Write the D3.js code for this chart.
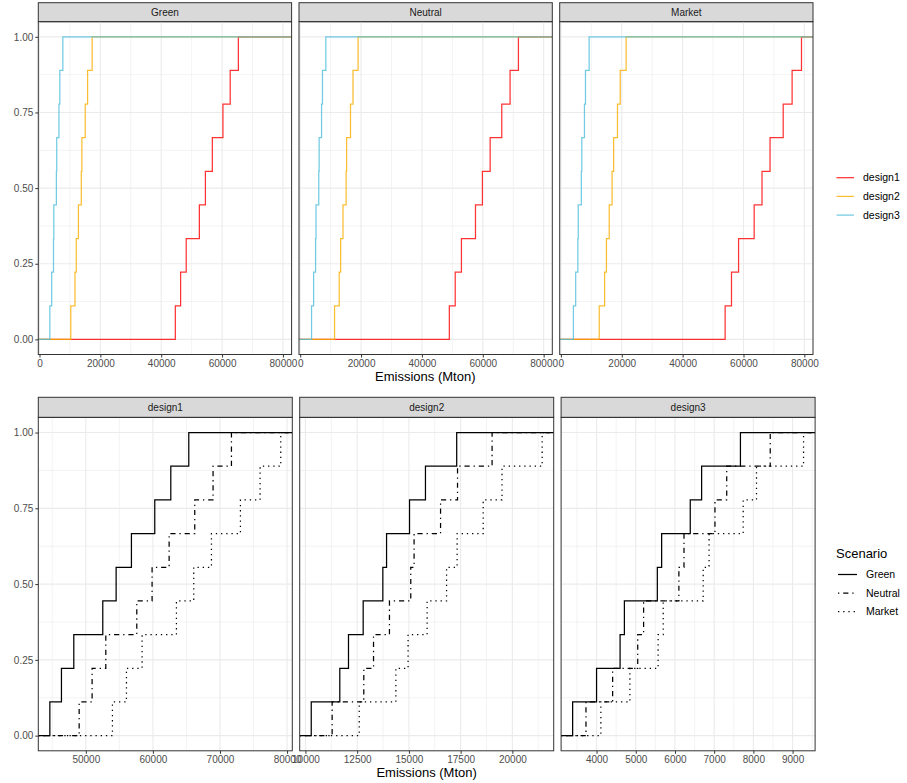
<!DOCTYPE html>
<html><head><meta charset="utf-8">
<script src="https://cdn.jsdelivr.net/npm/d3@7"></script>
<style>body{margin:0;background:#fff} text{font-family:"Liberation Sans",Arial,sans-serif}</style>
</head><body><svg id="c" width="907" height="783"></svg>
<script>
// ---------------- data ----------------
const scenarios = ["Green", "Neutral", "Market"];
const designs = ["design1", "design2", "design3"];
const design1_Green   = [44640, 46370, 48210, 52530, 54520, 56800, 60280, 62670, 65350];
const design1_Neutral = [49010, 50940, 52980, 57600, 59880, 62420, 66240, 68970, 71710];
const design1_Market  = [53970, 56060, 58390, 63510, 66090, 68730, 73050, 75980, 79060];
const design2_Green   = [10280, 11660, 12080, 12790, 13740, 13920, 15030, 15800, 17310];
const design2_Neutral = [11290, 12820, 13290, 14060, 15090, 15250, 16530, 17350, 19020];
const design2_Market  = [12600, 14370, 14960, 15880, 16820, 17330, 18590, 19500, 21440];
const design3_Green   = [3390, 4000, 4600, 4710, 5550, 5660, 6390, 6680, 7670];
const design3_Neutral = [3730, 4410, 5050, 5200, 6100, 6230, 7020, 7320, 8430];
const design3_Market  = [4110, 4850, 5570, 5700, 6720, 6870, 7740, 8080, 9280];
const yTicks = [0, 0.25, 0.5, 0.75, 1];
const topXTicks = [0, 20000, 40000, 60000, 80000];
const design1XTicks = [50000, 60000, 70000, 80000];
const design2XTicks = [10000, 12500, 15000, 17500, 20000];
const design3XTicks = [4000, 5000, 6000, 7000, 8000, 9000];
const xTitle = "Emissions (Mton)";
const legendTitle = "Scenario";

const emissions = {
  design1: {Green: design1_Green, Neutral: design1_Neutral, Market: design1_Market},
  design2: {Green: design2_Green, Neutral: design2_Neutral, Market: design2_Market},
  design3: {Green: design3_Green, Neutral: design3_Neutral, Market: design3_Market}
};
const designColor = {design1: "#FF0000", design2: "#F9AE00", design3: "#4FBEDC"};
const scenarioDash = {Green: null, Neutral: "1.3,3.9,5.2,3.9", Market: "1.3,3.9"};

// ---------------- helpers ----------------
const svg = d3.select("#c");
const grid = "#EBEBEB", dark = "#333333";
function expand(ext) { const s = ext[1] - ext[0]; return [ext[0] - 0.05 * s, ext[1] + 0.05 * s]; }
function minorsOf(ticks, dom) {
  const step = ticks[1] - ticks[0], out = [];
  for (let i = -2; i < ticks.length + 2; i++) {
    const v = ticks[0] + (i + 0.5) * step;
    if (v > dom[0] && v < dom[1]) out.push(v);
  }
  return out;
}
let clipId = 0;
function panel(opt) {
  const {x0, y0, w, h, xDom, xTicks, strip, stripTop, showY, series, ybottomLabelY} = opt;
  const g = svg.append("g");
  const x = d3.scaleLinear().domain(xDom).range([x0, x0 + w]);
  const y = d3.scaleLinear().domain([-0.05, 1.05]).range([y0 + h, y0]);
  // strip
  g.append("rect").attr("x", x0).attr("y", stripTop).attr("width", w).attr("height", y0 - stripTop)
    .attr("fill", "#D9D9D9").attr("stroke", dark).attr("stroke-width", 1);
  g.append("text").attr("x", x0 + w / 2).attr("y", (stripTop + y0) / 2).attr("dy", "0.35em")
    .attr("text-anchor", "middle").attr("font-size", 10).attr("fill", "#1A1A1A").text(strip);
  // grid
  const yMin = minorsOf(yTicks, [-0.05, 1.05]);
  const xMin = minorsOf(xTicks, xDom);
  g.selectAll(null).data(yMin).join("line").attr("x1", x0).attr("x2", x0 + w)
    .attr("y1", d => y(d)).attr("y2", d => y(d)).attr("stroke", grid).attr("stroke-width", 0.6);
  g.selectAll(null).data(xMin).join("line").attr("y1", y0).attr("y2", y0 + h)
    .attr("x1", d => x(d)).attr("x2", d => x(d)).attr("stroke", grid).attr("stroke-width", 0.6);
  g.selectAll(null).data(yTicks).join("line").attr("x1", x0).attr("x2", x0 + w)
    .attr("y1", d => y(d)).attr("y2", d => y(d)).attr("stroke", grid).attr("stroke-width", 1.1);
  g.selectAll(null).data(xTicks.filter(t => t >= xDom[0] && t <= xDom[1])).join("line").attr("y1", y0).attr("y2", y0 + h)
    .attr("x1", d => x(d)).attr("x2", d => x(d)).attr("stroke", grid).attr("stroke-width", 1.1);
  // clip
  const id = "clip" + (clipId++);
  svg.append("clipPath").attr("id", id).append("rect").attr("x", x0).attr("y", y0).attr("width", w).attr("height", h);
  const lg = g.append("g").attr("clip-path", `url(#${id})`);
  const line = d3.line().x(d => x(d[0])).y(d => y(d[1])).curve(d3.curveStepAfter);
  series.forEach(s => {
    const v = s.values.slice().sort((a, b) => a - b);
    const n = v.length;
    const pts = [[xDom[0], 0]].concat(v.map((d, i) => [d, (i + 1) / n])).concat([[xDom[1], 1]]);
    lg.append("path").attr("d", line(pts)).attr("fill", "none").attr("stroke", s.color)
      .attr("stroke-opacity", s.opacity).attr("stroke-width", 1.25)
      .attr("stroke-dasharray", s.dash).attr("stroke-linejoin", "miter");
  });
  // border
  g.append("rect").attr("x", x0).attr("y", y0).attr("width", w).attr("height", h)
    .attr("fill", "none").attr("stroke", dark).attr("stroke-width", 1);
  // x axis
  const xa = g.append("g").attr("transform", `translate(0,${y0 + h})`)
    .call(d3.axisBottom(x).tickValues(xTicks).tickFormat(d3.format("d")).tickSize(3).tickPadding(2));
  xa.select(".domain").remove();
  xa.selectAll("line").attr("stroke", dark);
  xa.selectAll("text").attr("font-size", 10).attr("fill", "#4D4D4D").attr("font-family", "Liberation Sans, Arial, sans-serif");
  if (showY) {
    const ya = g.append("g").attr("transform", `translate(${x0},0)`)
      .call(d3.axisLeft(y).tickValues(yTicks).tickFormat(d3.format(".2f")).tickSize(3).tickPadding(2));
    ya.select(".domain").remove();
    ya.selectAll("line").attr("stroke", dark);
    ya.selectAll("text").attr("font-size", 10).attr("fill", "#4D4D4D").attr("font-family", "Liberation Sans, Arial, sans-serif");
  }
}

// ---------------- top: by scenario ----------------
const allVals = [].concat(...designs.map(d => scenarios.map(s => emissions[d][s])).flat());
const topDom = expand(d3.extent(allVals));
const topX = [38.3, 299.0, 559.7], topW = 253.3;
scenarios.forEach((sc, i) => {
  panel({x0: topX[i], y0: 21.7, w: topW, h: 332.8, xDom: topDom, xTicks: topXTicks,
    strip: sc, stripTop: 2.7, showY: i === 0,
    series: designs.map(d => ({values: emissions[d][sc], color: designColor[d], opacity: 0.8, dash: null}))});
});
svg.append("text").attr("x", (38.3 + 812.3) / 2).attr("y", 381).attr("text-anchor", "middle")
  .attr("font-size", 13).attr("fill", "#000").text(xTitle);

// ---------------- bottom: by design ----------------
const botX = [38.3, 299.7, 561.1], botW = 254;
const botTicks = {design1: design1XTicks, design2: design2XTicks, design3: design3XTicks};
designs.forEach((d, i) => {
  const dom = expand(d3.extent([].concat(...scenarios.map(s => emissions[d][s]))));
  panel({x0: botX[i], y0: 417.4, w: botW, h: 333.4, xDom: dom, xTicks: botTicks[d],
    strip: d, stripTop: 397.3, showY: i === 0,
    series: scenarios.map(s => ({values: emissions[d][s], color: "#000", opacity: 1, dash: scenarioDash[s]}))});
});
svg.append("text").attr("x", (38.3 + 815) / 2).attr("y", 777).attr("text-anchor", "middle")
  .attr("font-size", 13).attr("fill", "#000").text(xTitle);

// ---------------- legends ----------------
const lt = svg.append("g");
designs.forEach((d, i) => {
  const yy = 177.7 + i * 18.7;
  lt.append("line").attr("x1", 836.5).attr("x2", 854).attr("y1", yy).attr("y2", yy)
    .attr("stroke", designColor[d]).attr("stroke-opacity", 0.8).attr("stroke-width", 1.25);
  lt.append("text").attr("x", 863).attr("y", yy).attr("dy", "0.35em").attr("font-size", 10.5)
    .attr("fill", "#000").text(d);
});
const lb = svg.append("g");
lb.append("text").attr("x", 836).attr("y", 553).attr("dy", "0.35em").attr("font-size", 13).text(legendTitle);
scenarios.forEach((s, i) => {
  const yy = 574.5 + i * 18.5;
  lb.append("line").attr("x1", 838).attr("x2", 857).attr("y1", yy).attr("y2", yy)
    .attr("stroke", "#000").attr("stroke-width", 1.25).attr("stroke-dasharray", scenarioDash[s]);
  lb.append("text").attr("x", 866).attr("y", yy).attr("dy", "0.35em").attr("font-size", 10.5).text(s);
});
</script></body></html>
